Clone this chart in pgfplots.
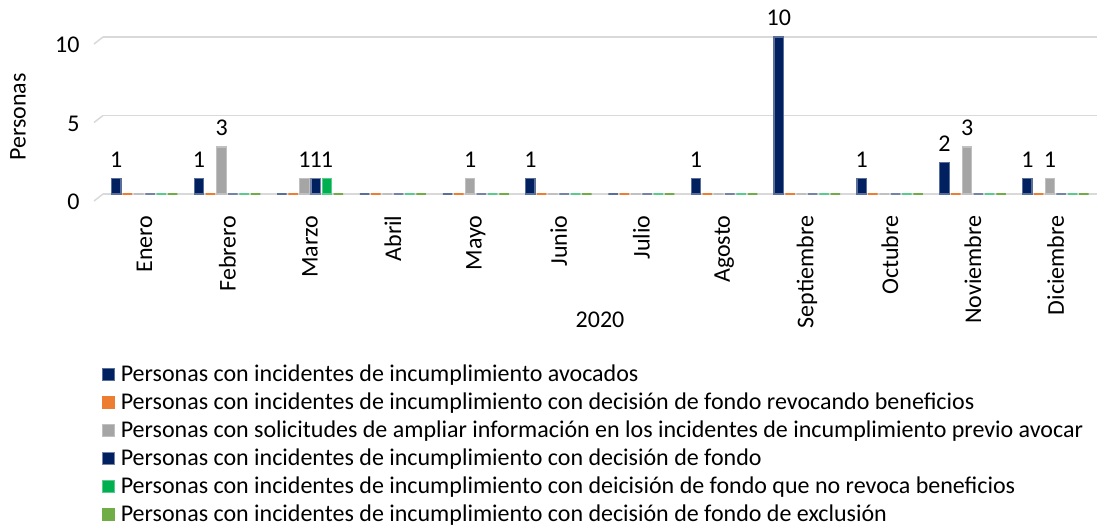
\documentclass[border=0pt]{standalone}
\usepackage{fontspec}
\setmainfont{Carlito}
\usepackage{pgfplots}
\pgfplotsset{compat=1.18}
\definecolor{cNavy}{HTML}{002060}
\definecolor{cOrange}{HTML}{ED7D31}
\definecolor{cGray}{HTML}{A5A5A5}
\definecolor{cGreen}{HTML}{00B050}
\definecolor{cLGreen}{HTML}{70AD47}
\definecolor{cGrid}{HTML}{D9D9D9}
\newcommand{\bigf}{\fontsize{24}{28}\selectfont}
\begin{document}
\begin{tikzpicture}
\begin{axis}[
  at={(103pt,-194pt)}, anchor=south west,
  scale only axis, width=994pt, height=157pt,
  ybar=1.8pt, bar width=9.5pt,
  xmin=-0.5, xmax=11.5, ymin=0, ymax=10,
  xtick={0,...,11},
  xticklabels={Enero,Febrero,Marzo,Abril,Mayo,Junio,Julio,Agosto,Septiembre,Octubre,Noviembre,Diciembre},
  xticklabel style={rotate=90, anchor=east, font=\bigf},
  xticklabel shift=18pt,
  ytick={0,5,10},
  yticklabel style={font=\bigf, yshift=-8pt, xshift=-20pt},
  /pgf/number format/assume math mode=true,
  major tick length=0pt,
  axis line style={draw=none},
  ymajorgrids, major grid style={cGrid, line width=1.5pt},
  xlabel={2020}, ylabel={Personas},
  xlabel style={at={(axis description cs:0.5,-0.8025)}, anchor=center, font=\bigf},
  ylabel style={at={(axis description cs:-0.0855,0.49)}, anchor=center, font=\bigf},
  nodes near coords={\pgfmathfloatifflags{\pgfplotspointmeta}{0}{}{\pgfmathprintnumber{\pgfplotspointmeta}}},
  every node near coord/.append style={font=\bigf, black, /pgf/number format/assume math mode=true, yshift=7pt},
  clip=false,
  legend style={at={(0,0)}, anchor=north west, xshift=-1pt, yshift=-169pt, draw=none, fill=none,
    font=\bigf, row sep=5.8pt, inner sep=0pt},
  legend cell align=left,
  legend image code/.code={\fill[#1] (0pt,-6pt) rectangle (12pt,6pt); \path[draw=none,fill=none] (0pt,0pt) -- (16pt,0pt);},
]
\addplot[fill=cNavy, draw=cNavy!65!white, line width=1.2pt] coordinates {(0,1) (1,1) (2,0) (3,0) (4,0) (5,1) (6,0) (7,1) (8,10) (9,1) (10,2) (11,1)};
\addplot[fill=cOrange, draw=cOrange, line width=1.2pt] coordinates {(0,0) (1,0) (2,0) (3,0) (4,0) (5,0) (6,0) (7,0) (8,0) (9,0) (10,0) (11,0)};
\addplot[fill=cGray, draw=cGray!70!white, line width=1.2pt] coordinates {(0,0) (1,3) (2,1) (3,0) (4,1) (5,0) (6,0) (7,0) (8,0) (9,0) (10,3) (11,1)};
\addplot[fill=cNavy, draw=cNavy!55!white, line width=1.2pt] coordinates {(0,0) (1,0) (2,1) (3,0) (4,0) (5,0) (6,0) (7,0) (8,0) (9,0) (10,0) (11,0)};
\addplot[fill=cGreen, draw=cGreen!65!white, line width=1.2pt] coordinates {(0,0) (1,0) (2,1) (3,0) (4,0) (5,0) (6,0) (7,0) (8,0) (9,0) (10,0) (11,0)};
\addplot[fill=cLGreen, draw=cLGreen, line width=1.2pt] coordinates {(0,0) (1,0) (2,0) (3,0) (4,0) (5,0) (6,0) (7,0) (8,0) (9,0) (10,0) (11,0)};
\legend{Personas con incidentes de incumplimiento avocados,
Personas con incidentes de incumplimiento con decisión de fondo revocando beneficios,
Personas con solicitudes de ampliar información en los incidentes de incumplimiento previo avocar,
Personas con incidentes de incumplimiento con decisión de fondo,
Personas con incidentes de incumplimiento con deicisión de fondo que no revoca beneficios,
Personas con incidentes de incumplimiento con decisión de fondo de exclusión}
\draw[cGrid, line width=1.5pt] ([xshift=-9pt,yshift=-7pt]axis cs:-0.5,10) -- (axis cs:-0.5,10);
\draw[cGrid, line width=1.5pt] ([xshift=-9pt,yshift=-7pt]axis cs:-0.5,5) -- (axis cs:-0.5,5);
\draw[cGrid, line width=1.5pt] ([xshift=-9pt,yshift=-7pt]axis cs:-0.5,0) -- (axis cs:-0.5,0);
\end{axis}
\pgfresetboundingbox
\path[use as bounding box] (0pt,0pt) rectangle (1097pt,-527pt);
\end{tikzpicture}
\end{document}
